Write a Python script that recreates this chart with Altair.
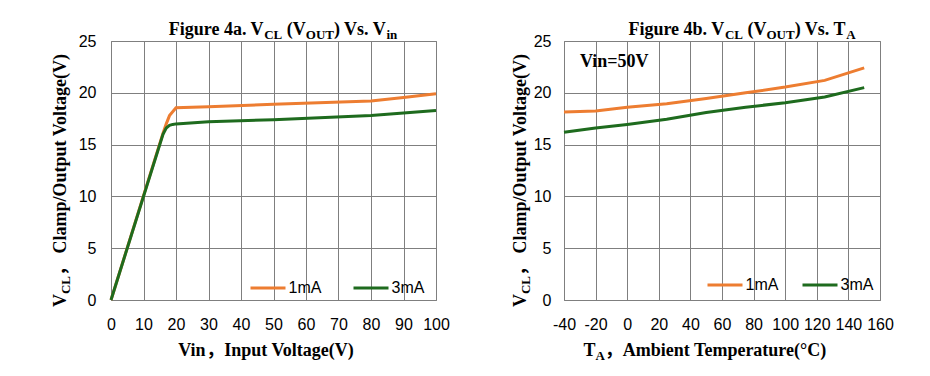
import altair as alt
import pandas as pd

# ---------------- data ----------------
series = ["1mA", "3mA"]
colors = ["#ED7D31", "#1E6B1E"]

vin_1ma = [0, 16, 17, 18, 20, 30, 50, 80, 90, 100]
vcl_1ma = [0, 16.1, 17.0, 17.8, 18.55, 18.65, 18.9, 19.2, 19.55, 19.9]
vin_3ma = [0, 16, 17, 18, 19, 20, 30, 50, 80, 100]
vcl_3ma = [0, 16.0, 16.6, 16.85, 16.95, 17.0, 17.2, 17.4, 17.8, 18.3]

ta = [-40, -20, 0, 25, 50, 75, 100, 125, 150]
vcl_ta_1ma = [18.15, 18.25, 18.6, 18.95, 19.45, 20.0, 20.55, 21.2, 22.4]
vcl_ta_3ma = [16.2, 16.6, 16.95, 17.45, 18.1, 18.6, 19.05, 19.6, 20.5]

x_ticks_a = [0, 10, 20, 30, 40, 50, 60, 70, 80, 90, 100]
x_ticks_b = [-40, -20, 0, 20, 40, 60, 80, 100, 120, 140, 160]
y_ticks = [0, 5, 10, 15, 20, 25]

SERIF = "Liberation Serif"
CJK = "Noto Sans CJK SC"
SANS = "Liberation Sans"

# Times-Bold advance widths (per 1000 em) for placing subscript segments
AFM = {" ": 250, "(": 333, ")": 333, ".": 250, "/": 278, "4": 500, "=": 570,
       "5": 500, "0": 500, "A": 722, "C": 722, "F": 611, "I": 389, "L": 667,
       "O": 778, "T": 667, "U": 722, "V": 722, "a": 500, "b": 556, "c": 444,
       "e": 444, "g": 500, "h": 556, "i": 278, "l": 278, "m": 833, "n": 556,
       "o": 500, "p": 556, "r": 444, "s": 389, "t": 333, "u": 556, "°": 400,
       "，": 1000}


def tw(text, size):
    return sum(AFM.get(ch, 500) for ch in text) * size / 1000.0


def rich_text(segments, x, y, angle=0):
    segs = [s if len(s) == 4 else (s[0], s[1], s[2], SERIF) for s in segments]
    total = sum(tw(t, s) for t, s, _, _ in segs)
    off = -total / 2.0
    layers = []
    for t, s, dy, fnt in segs:
        lead = len(t) - len(t.lstrip(" "))
        body = t.strip(" ")
        o = off + tw(" " * lead, s)
        kw = dict(font=fnt, fontSize=s, fontWeight="bold", color="black",
                  align="left", baseline="alphabetic")
        if angle:
            kw["angle"] = angle
            px, py = x + dy, y - o
        else:
            px, py = x + o, y + dy
        layers.append(
            alt.Chart(pd.DataFrame({"t": [body]})).mark_text(**kw).encode(
                x=alt.value(round(px, 2)), y=alt.value(round(py, 2)), text="t:N")
        )
        off += tw(t, s)
    return layers


def legend_layers(x_starts, y, length=35, gap=3):
    layers = []
    for name, col, x0 in zip(series, colors, x_starts):
        d = pd.DataFrame({"t": [name]})
        layers.append(alt.Chart(d).mark_rule(strokeWidth=3, color=col).encode(
            x=alt.value(x0), x2=alt.value(x0 + length), y=alt.value(y)))
        layers.append(alt.Chart(d).mark_text(
            align="left", baseline="middle", font=SANS, fontSize=16,
            color="black").encode(
            x=alt.value(x0 + length + gap), y=alt.value(y), text="t:N"))
    return layers


def long_df(xa, ya, xb, yb):
    return pd.DataFrame({
        "x": list(xa) + list(xb),
        "y": list(ya) + list(yb),
        "s": [series[0]] * len(xa) + [series[1]] * len(xb),
    })


def line_chart(df, domain, ticks, lab_pad_y):
    return alt.Chart(df).mark_line(strokeWidth=3).encode(
        x=alt.X("x:Q", scale=alt.Scale(domain=domain, nice=False, zero=False),
                axis=alt.Axis(values=ticks, title=None, labelPadding=16,
                              labelFlush=False, labelExpr="'' + datum.value")),
        y=alt.Y("y:Q", scale=alt.Scale(domain=[0, 25], nice=False),
                axis=alt.Axis(values=y_ticks, title=None, labelPadding=lab_pad_y)),
        color=alt.Color("s:N", scale=alt.Scale(domain=series, range=colors),
                        legend=None),
    )


Y_TITLE = [("V", 18, 0), ("CL", 13, 4), ("，", 18, 0, CJK),
           (" Clamp/Output Voltage(V)", 18, 0)]

# ---------------- left panel ----------------
left_lines = line_chart(long_df(vin_1ma, vcl_1ma, vin_3ma, vcl_3ma),
                        [0, 100], x_ticks_a, 15)
left_texts = (
    rich_text([("Figure 4a. V", 18, 0), ("CL", 13, 4), (" (V", 18, 0),
               ("OUT", 13, 4), (") Vs. V", 18, 0), ("in", 13, 4)], 172, -6)
    + rich_text(Y_TITLE, -45, 138.5, angle=270)
    + rich_text([("Vin", 18, 0), ("，", 18, 0, CJK),
                 ("Input Voltage(V)", 18, 0)], 156, 315)
    + legend_layers([139.5, 242.5], 247)
)
left = alt.layer(left_lines, *left_texts).properties(width=325, height=259)

# ---------------- right panel ----------------
right_lines = line_chart(long_df(ta, vcl_ta_1ma, ta, vcl_ta_3ma),
                         [-40, 160], x_ticks_b, 13)
right_texts = (
    rich_text([("Figure 4b. V", 18, 0), ("CL", 13, 4), (" (V", 18, 0),
               ("OUT", 13, 4), (") Vs. T", 18, 0), ("A", 13, 4)], 178, -6)
    + rich_text(Y_TITLE, -38, 138.5, angle=270)
    + rich_text([("T", 18, 0), ("A", 13, 4), ("，", 18, 0, CJK),
                 ("Ambient Temperature(°C)", 18, 0)], 142, 315)
    + rich_text([("Vin=50V", 18, 0)], 16 + tw("Vin=50V", 18) / 2, 26)
    + legend_layers([143.5, 238.5], 244)
)
right = alt.layer(right_lines, *right_texts).properties(width=316, height=259)

chart = alt.hconcat(left, right, spacing=128, bounds="flush").resolve_scale(
    color="independent").properties(
    padding={"left": 51, "top": 20, "right": 5, "bottom": 5},
    background="white",
).configure_axis(
    labelFont=SANS, labelFontSize=16, labelColor="black",
    gridColor="#7f7f7f", gridOpacity=1, gridWidth=1,
    domain=False, ticks=False, tickSize=0,
).configure_view(stroke="#7f7f7f", strokeWidth=1)

chart.save("out.html", embed_options={"renderer": "svg", "actions": False})
